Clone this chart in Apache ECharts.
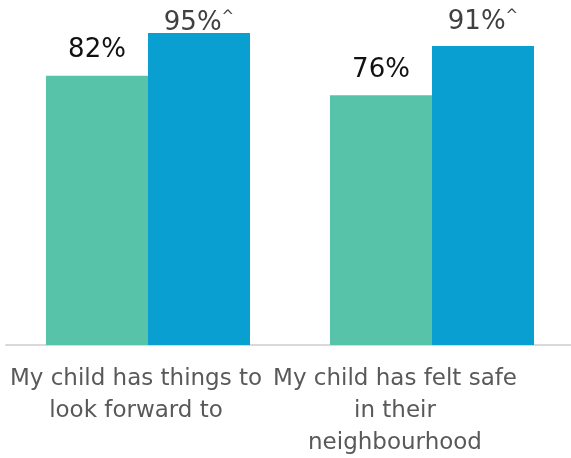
<!DOCTYPE html>
<html>
<head>
<meta charset="utf-8">
<script src="https://cdn.jsdelivr.net/npm/echarts@6/dist/echarts.min.js"></script>
<style>html,body{margin:0;padding:0;background:#fff}#c{width:571px;height:458px}</style>
</head>
<body>
<div id="c"></div>
<script>
var categories = ["My child has things to\nlook forward to", "My child has felt safe\nin their\nneighbourhood"];
var seriesA = [82, 76];
var seriesB = [95, 91];
var suffixB = ["^", "^"];

var chart = echarts.init(document.getElementById('c'), null, {renderer: 'canvas'});
var FONT = 'DejaVu Sans';
var labelShift = [24, 74];

chart.setOption({
  animation: false,
  backgroundColor: '#ffffff',
  grid: {left: 6, right: -3, top: 16.5, bottom: 113, containLabel: false, outerBoundsMode: 'none'},
  xAxis: {
    type: 'category',
    data: categories.map(function (c, i) {
      return {value: c, textStyle: {padding: [0, labelShift[i], 0, 0]}};
    }),
    axisLine: {show: true, lineStyle: {color: '#d9d9d9', width: 2}},
    axisTick: {show: false},
    axisLabel: {
      interval: 0, margin: 18, color: '#595959', hideOverlap: false,
      fontFamily: FONT, fontSize: 23, lineHeight: 32
    }
  },
  yAxis: {type: 'value', min: 0, max: 100, show: false, splitLine: {show: false}},
  series: [
    {
      type: 'bar', data: seriesA, barWidth: 102, barGap: '0%',
      itemStyle: {color: '#57C3A9'},
      label: {
        show: true, position: 'top', distance: 12,
        formatter: '{c}%', color: '#111111', fontFamily: FONT, fontSize: 26
      }
    },
    {
      type: 'bar', barWidth: 102, barGap: '0%',
      data: seriesB.map(function (v, i) {
        return {value: v, label: {distance: i === 0 ? -3 : 11}};
      }),
      itemStyle: {color: '#09A0D1'},
      label: {
        show: true, position: 'top',
        formatter: function (p) { return '{v|' + p.value + '%}{c|' + suffixB[p.dataIndex] + '}'; },
        rich: {
          v: {color: '#404040', fontFamily: FONT, fontSize: 26},
          c: {color: '#404040', fontFamily: FONT, fontSize: 15, verticalAlign: 'top', padding: [0, 0, 6, 0]}
        }
      }
    }
  ]
});
</script>
</body>
</html>
